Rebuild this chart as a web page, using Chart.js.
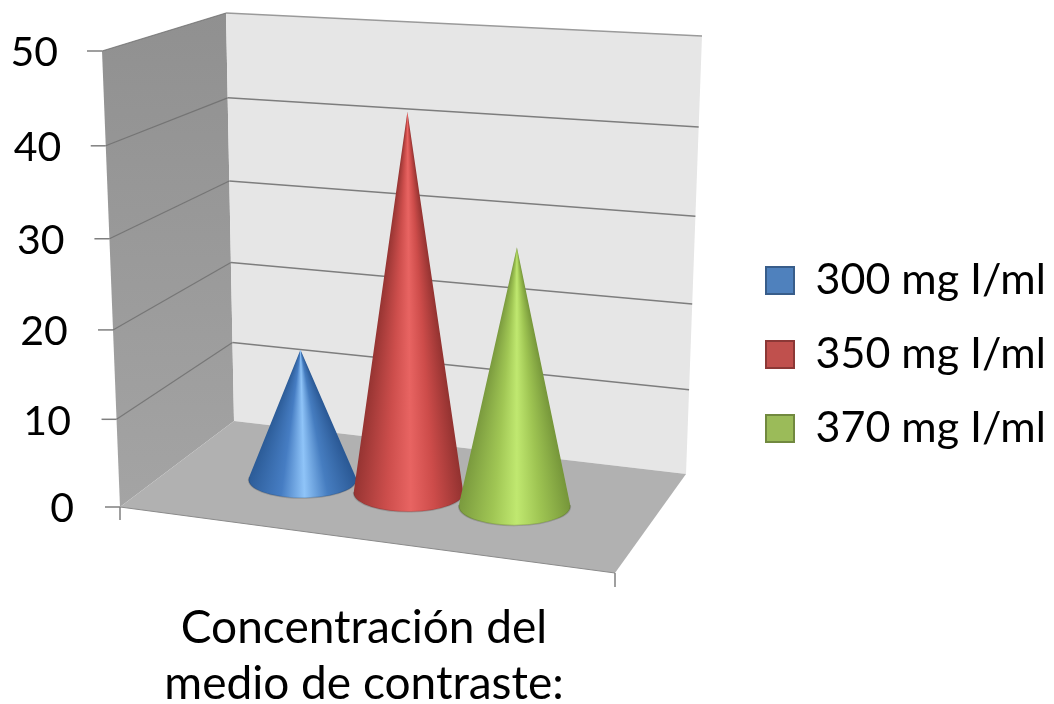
<!DOCTYPE html>
<html>
<head>
<meta charset="utf-8">
<title>Concentración del medio de contraste</title>
<style>
  html, body { margin: 0; padding: 0; background: #fff; }
  canvas { display: block; }
</style>
<script src="https://cdn.jsdelivr.net/npm/chart.js@4/dist/chart.umd.js"></script>
</head>
<body>
<canvas id="coneChart" width="1054" height="704"></canvas>
<script>
const categories = [['Concentración del', 'medio de contraste:']];
const seriesNames = ['300 mg I/ml', '350 mg I/ml', '370 mg I/ml'];
const values300 = [15.3];
const values350 = [43];
const values370 = [29.2];

const fillColors = ['#4f81bd', '#c0504d', '#9bbb59'];
const edgeColors = ['#385d8a', '#8c3836', '#71893f'];
// cone shading, left edge -> highlight -> right edge
const coneShades = [
  ['#2c5c98', '#467dc3', '#8fc4f8', '#467dc0', '#2a5894'],
  ['#963432', '#cd4e4c', '#e86462', '#cd4c4a', '#923230'],
  ['#7a9a3e', '#a0c654', '#c0e870', '#9ec452', '#76963a']
];
const coneStops = [0, 0.3, 0.52, 0.74, 1];

const textFont = 'Lato';

// corners of the plot box: level 0 and level 50, front/back, left/right
const box = {
  floor: { fl: [120, 507], fr: [615, 573], bl: [234, 421], br: [686, 474] },
  roof: { fl: [102, 51], fr: [621, 88], bl: [226, 13], br: [702, 36] }
};

function mix(a, b, t) {
  return [a[0] + (b[0] - a[0]) * t, a[1] + (b[1] - a[1]) * t];
}

// u runs along the front edge, d goes into the depth, h is the height 0..1
function project(u, d, h) {
  const low = mix(mix(box.floor.fl, box.floor.fr, u), mix(box.floor.bl, box.floor.br, u), d);
  const high = mix(mix(box.roof.fl, box.roof.fr, u), mix(box.roof.bl, box.roof.br, u), d);
  return mix(low, high, h);
}

function polygon(ctx, pts, fill) {
  ctx.beginPath();
  pts.forEach((p, i) => (i ? ctx.lineTo(p[0], p[1]) : ctx.moveTo(p[0], p[1])));
  ctx.closePath();
  ctx.fillStyle = fill;
  ctx.fill();
}

function line(ctx, pts, color, width) {
  ctx.beginPath();
  pts.forEach((p, i) => (i ? ctx.lineTo(p[0], p[1]) : ctx.moveTo(p[0], p[1])));
  ctx.strokeStyle = color;
  ctx.lineWidth = width;
  ctx.stroke();
}

// linear scale with the slight foreshortening of the 3D view
class WallScale extends Chart.LinearScale {
  static id = 'wall';
  static defaults = Chart.LinearScale.defaults;

  getPixelForValue(value) {
    const v = +value;
    return this.getPixelForDecimal(v / (52.5 - 0.05 * v));
  }

  // labels follow the slanted front edge of the side wall
  _computeLabelItems(chartArea) {
    const items = super._computeLabelItems(chartArea);
    items.forEach((item, i) => {
      const h = (this.bottom - this.getPixelForTick(i)) / (this.bottom - this.top);
      item.options.translation[0] -= 16 * h;
      item.options.translation[1] = project(0, 0, h)[1] + 2;
    });
    return items;
  }
}

// keeps the bar layout, the cones themselves are painted by conePlugin
class ConeController extends Chart.BarController {
  static id = 'cone';
  static defaults = Chart.BarController.defaults;
  draw() {}
}

Chart.register(WallScale, ConeController);

function drawCone(ctx, base, apex, rx, ry, shades) {
  // tangent points of the apex on the base ellipse
  const ax = (apex[0] - base[0]) / rx, ay = (apex[1] - base[1]) / ry;
  const dir = Math.atan2(ay, ax);
  const spread = Math.acos(1 / Math.hypot(ax, ay));
  const start = dir + spread;
  const end = dir - spread + Math.PI * 2;

  // shading runs around the apex, so it narrows towards the tip
  const angleAt = s => {
    const k = 2 * s - 1;
    const px = base[0] + rx * k;
    const py = base[1] + ry * Math.sqrt(1 - k * k);
    return Math.atan2(py - apex[1], px - apex[0]);
  };
  const first = angleAt(1);
  const shading = ctx.createConicGradient(first, apex[0], apex[1]);
  for (let i = coneStops.length - 1; i >= 0; i--) {
    shading.addColorStop((angleAt(coneStops[i]) - first) / (Math.PI * 2), shades[i]);
  }

  ctx.beginPath();
  ctx.moveTo(apex[0], apex[1]);
  ctx.ellipse(base[0], base[1], rx, ry, 0, start, end);
  ctx.closePath();
  ctx.fillStyle = shading;
  ctx.fill();

  // darker rim along the front of the base
  ctx.beginPath();
  ctx.ellipse(base[0], base[1], rx, ry, 0, start, end);
  ctx.strokeStyle = 'rgba(40,40,40,0.2)';
  ctx.lineWidth = 1.5;
  ctx.stroke();
}

const conePlugin = {
  id: 'conePlugin',
  afterLayout(chart) {
    // legend sits to the right of the plot, outside the scale area
    const legend = chart.legend;
    const pad = legend.options.labels.padding;
    legend.left = 766 - pad;
    legend.right = 1054;
    legend.top = 259 - pad;
    legend.bottom = 704;
    legend.adjustHitBoxes();
  },
  beforeDatasetsDraw(chart) {
    const ctx = chart.ctx;
    const y = chart.scales.y;
    const levelOf = v => (y.bottom - y.getPixelForValue(v)) / (y.bottom - y.top);
    ctx.save();

    // side wall
    const sideFill = ctx.createLinearGradient(0, box.roof.bl[1], 0, box.floor.fl[1]);
    sideFill.addColorStop(0, '#909090');
    sideFill.addColorStop(1, '#a4a4a4');
    polygon(ctx, [project(0, 0, 0), project(0, 0, 1), project(0, 1, 1), project(0, 1, 0)], sideFill);

    // back wall
    polygon(ctx, [project(0, 1, 0), project(0, 1, 1), project(1, 1, 1), project(1, 1, 0)], '#e6e6e6');

    // floor
    polygon(ctx, [project(0, 0, 0), project(1, 0, 0), project(1, 1, 0), project(0, 1, 0)], '#b1b1b1');

    // gridlines and tick marks, one per axis tick
    y.ticks.forEach(tick => {
      const h = levelOf(tick.value);
      const front = project(0, 0, h);
      line(ctx, [[front[0] - 15, front[1]], front], '#7f7f7f', 1.5);
      if (tick.value > 0) {
        line(ctx, [front, project(0, 1, h)], 'rgba(105,105,105,0.75)', 1.2);
        line(ctx, [project(0, 1, h), project(1, 1, h)], tick.value === 50 ? '#9a9a9a' : '#7d7d7d', 1.5);
      }
    });

    // front edge of the floor and its end ticks
    line(ctx, [project(0, 0, 0), project(1, 0, 0)], '#8a8a8a', 1);
    const fl = project(0, 0, 0), fr = project(1, 0, 0);
    line(ctx, [fl, [fl[0], fl[1] + 13]], '#7f7f7f', 1.5);
    line(ctx, [fr, [fr[0], fr[1] + 14]], '#7f7f7f', 1.5);
    ctx.restore();
  },
  afterDatasetsDraw(chart) {
    const ctx = chart.ctx;
    const y = chart.scales.y;
    const span = box.floor.fr[0] - box.floor.fl[0];
    ctx.save();
    // later series stand in front of the earlier ones
    chart.data.datasets.forEach((ds, i) => {
      const bar = chart.getDatasetMeta(i).data[0];
      const u = (bar.x - box.floor.fl[0]) / span;
      const h = (y.bottom - bar.y) / (y.bottom - y.top);
      const rx = bar.width / 2 * (0.95 + 0.08 * u);
      drawCone(ctx, project(u, 0.5, 0), project(u, 0.5, h), rx, rx * 0.34, coneShades[i]);
    });
    ctx.restore();
  }
};

new Chart(document.getElementById('coneChart'), {
  type: 'cone',
  data: {
    labels: categories,
    datasets: [
      { label: seriesNames[0], data: values300, backgroundColor: fillColors[0], borderColor: edgeColors[0], borderWidth: 2 },
      { label: seriesNames[1], data: values350, backgroundColor: fillColors[1], borderColor: edgeColors[1], borderWidth: 2 },
      { label: seriesNames[2], data: values370, backgroundColor: fillColors[2], borderColor: edgeColors[2], borderWidth: 2 }
    ]
  },
  plugins: [conePlugin],
  options: {
    responsive: false,
    animation: false,
    categoryPercentage: 0.66,
    barPercentage: 1,
    layout: { padding: { top: 51, right: 440, left: 0, bottom: 0 } },
    scales: {
      x: {
        type: 'category',
        offset: true,
        grid: { display: false },
        border: { display: false },
        afterFit(scale) { scale.height = 199; },
        ticks: {
          color: '#000',
          padding: 88,
          labelOffset: 2,
          maxRotation: 0,
          autoSkip: false,
          font: { family: textFont, size: 46, lineHeight: 1.2 }
        }
      },
      y: {
        type: 'wall',
        min: 0,
        max: 50,
        grid: { display: false, drawTicks: false },
        border: { display: false },
        afterFit(scale) { scale.width = 110; },
        ticks: {
          stepSize: 10,
          color: '#000',
          padding: 36,
          font: { family: textFont, size: 41 }
        }
      }
    },
    plugins: {
      tooltip: { enabled: false },
      legend: {
        position: 'chartArea',
        align: 'start',
        labels: {
          color: '#000',
          boxWidth: 28,
          boxHeight: 27,
          padding: 31,
          font: { family: textFont, size: 43 }
        }
      }
    }
  }
});
</script>
</body>
</html>
